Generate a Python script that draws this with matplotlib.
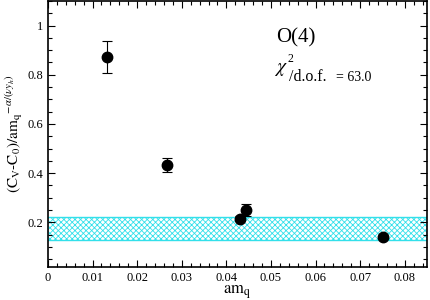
import matplotlib
matplotlib.use('Agg')
import matplotlib.pyplot as plt
from matplotlib.ticker import MultipleLocator

plt.rcParams['font.family'] = ['Liberation Serif', 'DejaVu Serif']
plt.rcParams['mathtext.fontset'] = 'stix'
plt.rcParams['hatch.linewidth'] = 0.6

# data
am_q = [0.0133, 0.0268, 0.0430, 0.0445, 0.0752]
ratio = [0.871, 0.433, 0.214, 0.250, 0.139]
ratio_err = [0.065, 0.028, 0.010, 0.025, 0.006]

# fitted constant band
band_lo = 0.130
band_hi = 0.220

fig = plt.figure(figsize=(4.3, 3.0), dpi=100)
ax = fig.add_axes([0.1116, 0.111, 0.8814, 0.886])

ax.fill_between([0, 0.085], band_lo, band_hi, facecolor='white',
                edgecolor='#33e0ea', hatch='xxxxxx', linewidth=0)
ax.axhline(band_lo, color='#33e0ea', lw=1)
ax.axhline(band_hi, color='#33e0ea', lw=1)

ax.errorbar(am_q, ratio, yerr=ratio_err, fmt='o', color='black',
            markersize=7.5, capsize=3.5, elinewidth=0.8, capthick=0.8)

ax.set_xlim(0, 0.085)
ax.set_ylim(0.02, 1.1)
ax.xaxis.set_major_locator(MultipleLocator(0.01))
ax.xaxis.set_minor_locator(MultipleLocator(0.002))
ax.yaxis.set_major_locator(MultipleLocator(0.2))
ax.yaxis.set_minor_locator(MultipleLocator(0.05))
ax.xaxis.set_major_formatter(plt.FuncFormatter(lambda v, p: '0' if abs(v) < 1e-9 else f'{v:g}'))
ax.yaxis.set_major_formatter(plt.FuncFormatter(lambda v, p: f'{v:g}'))
ax.tick_params(which='both', direction='in', top=True, right=True, labelsize=9)
ax.tick_params(which='major', length=5, width=0.8)
ax.tick_params(which='minor', length=2.8, width=0.8)
for s in ax.spines.values():
    s.set_linewidth(1.2)

ax.set_xlabel(r'$\mathrm{am}_\mathrm{q}$', fontsize=12, labelpad=0)
ax.set_ylabel(r'$\mathrm{(C_V\text{-}C_0)/am_q}^{-\alpha/(\nu y_h)}$', fontsize=11, labelpad=2)

ax.text(0.0512, 0.932, 'O(4)', fontsize=15)
# chi^2 label pieced together like the original
ax.text(0.0508, 0.810, r'$\chi$', fontsize=14)
ax.text(0.0537, 0.852, '2', fontsize=8.5)
ax.text(0.0541, 0.774, '/d.o.f.', fontsize=11.5)
ax.text(0.0646, 0.776, '= 63.0', fontsize=10)

fig.savefig('out.png', dpi=100)
